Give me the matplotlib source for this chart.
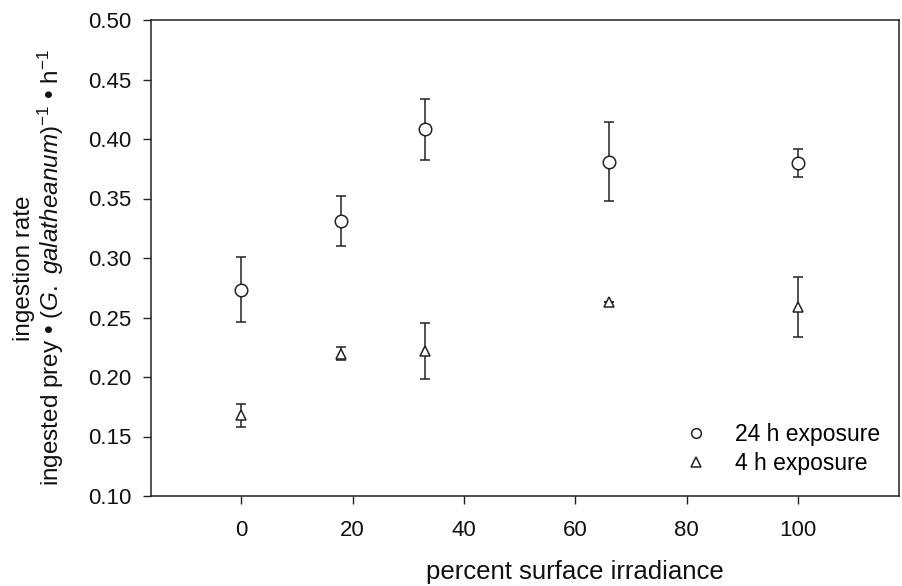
import matplotlib
matplotlib.use('Agg')
import matplotlib.pyplot as plt
from matplotlib.lines import Line2D

plt.rcParams['font.family'] = ['Liberation Sans', 'DejaVu Sans']
plt.rcParams['mathtext.fontset'] = 'custom'
plt.rcParams['mathtext.rm'] = 'Liberation Sans'
plt.rcParams['mathtext.it'] = 'Liberation Sans:italic'

# Données
irradiance = [0, 18, 33, 66, 100]
rate_24h = [0.273, 0.331, 0.408, 0.381, 0.380]
err_24h_low = [0.027, 0.021, 0.026, 0.033, 0.012]
err_24h_high = [0.028, 0.021, 0.026, 0.033, 0.012]
rate_4h = [0.168, 0.219, 0.222, 0.263, 0.259]
err_4h_low = [0.010, 0.005, 0.024, 0.0, 0.025]
err_4h_high = [0.009, 0.006, 0.023, 0.0, 0.025]

x_ticks = [0, 20, 40, 60, 80, 100]
y_ticks = [0.10, 0.15, 0.20, 0.25, 0.30, 0.35, 0.40, 0.45, 0.50]

ink = '#222222'
txt = '#111111'
W, H = 902, 586

fig = plt.figure(figsize=(W / 100, H / 100), dpi=100)
ax = fig.add_axes([151 / W, 1 - 496 / H, (899 - 151) / W, (496 - 20) / H])

ax.errorbar(irradiance, rate_24h, yerr=[err_24h_low, err_24h_high], fmt='o',
            ms=9, mfc='white', mec=ink, mew=1.1, ecolor=ink, elinewidth=1.1,
            capsize=3.8, capthick=1.1, zorder=3)
ax.errorbar(irradiance, rate_4h, yerr=[err_4h_low, err_4h_high], fmt='^',
            ms=7.5, mfc='white', mec=ink, mew=1.1, ecolor=ink, elinewidth=1.1,
            capsize=3.8, capthick=1.1, zorder=3)

ax.set_xlim(-16.2, 118.1)
ax.set_ylim(0.10, 0.50)
ax.set_xticks(x_ticks)
ax.set_yticks(y_ticks)
ax.set_yticklabels(['%.2f' % v for v in y_ticks])
ax.tick_params(direction='out', length=6, width=1, color=ink, labelsize=16,
               labelcolor=txt)
ax.tick_params(axis='x', pad=11)
ax.tick_params(axis='y', pad=8)
for s in ax.spines.values():
    s.set_color(ink)
    s.set_linewidth(1.1)

# Titres des axes
fig.text(575 / W, 1 - 572 / H, 'percent surface irradiance', fontsize=18.5,
         color=txt, ha='center', va='center')
y_mid = 1 - 268 / H
fig.text(24 / W, y_mid, 'ingestion rate', fontsize=17.5, color=txt,
         rotation=90, ha='center', va='center')
fig.text(51 / W, y_mid,
         'ingested prey • ($\\it{G.\\ galatheanum}$)$^{-1}$ • h$^{-1}$',
         fontsize=17.5, color=txt, rotation=90, ha='center', va='center')

handles = [
    Line2D([], [], ls='none', marker='o', ms=7, mfc='white', mec=ink, mew=1.1),
    Line2D([], [], ls='none', marker='^', ms=6.5, mfc='white', mec=ink, mew=1.1),
]
fig.legend(handles, ['24 h exposure', '4 h exposure'], loc='upper left',
           bbox_to_anchor=(685 / W, 1 - 423 / H), frameon=False, fontsize=16.5,
           handlelength=1.0, handletextpad=1.2, labelspacing=0.25,
           borderpad=0, borderaxespad=0)

plt.savefig('out.png', dpi=100)
plt.close()
